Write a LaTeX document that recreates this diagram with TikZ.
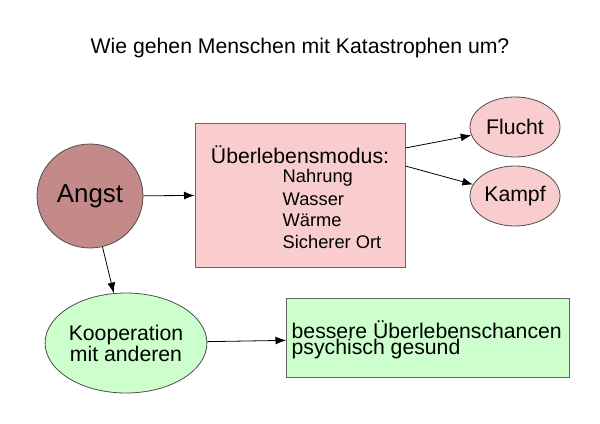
\documentclass[tikz,border=0pt]{standalone}
\usepackage{fontspec}
\setmainfont{Liberation Sans}
\usetikzlibrary{arrows.meta,shapes.geometric}
\definecolor{rose}{HTML}{C48A8A}
\definecolor{pinkfill}{HTML}{F9CDCD}
\definecolor{greenfill}{HTML}{CCFFCC}
\newcommand{\gross}{\fontsize{16}{22}\selectfont}
\newcommand{\klein}{\fontsize{13.8}{16}\selectfont}
\tikzset{
  oval/.style={ellipse, draw=black!70, semithick, inner sep=0pt},
  kasten/.style={rectangle, draw=black!60, semithick},
  pfeil/.style={-{Latex[length=8pt,width=6pt]}, semithick}
}
\begin{document}
\begin{tikzpicture}[x=0.0265cm,y=-0.0265cm]
      \useasboundingbox (0,0) rectangle (600,424);
      \node             (title) at (300,48) {\gross Wie gehen Menschen mit Katastrophen um?};
      \node[oval, fill=rose, minimum width=106*0.0265cm, minimum height=104*0.0265cm] (angst) at (90,196) {\fontsize{19.5}{22}\selectfont Angst};
      \node[kasten, fill=pinkfill, minimum width=210*0.0265cm, minimum height=144*0.0265cm] (modus) at (300,195) {};
      \node             (mtitle) at (300,155) {\gross Überlebensmodus:};
      \foreach \y/\wort in {178/Nahrung, 199/Wasser, 220/Wärme, 242/Sicherer Ort} {
        \node[right]    (w\y) at (278,\y) {\klein \wort};
      }
      \node[oval, fill=pinkfill, minimum width=90*0.0265cm, minimum height=60*0.0265cm] (flucht) at (515,127) {\gross Flucht};
      \node[oval, fill=pinkfill, minimum width=90*0.0265cm, minimum height=60*0.0265cm] (kampf) at (515,196) {\gross Kampf};
      \node[oval, fill=greenfill, minimum width=140*0.0265cm, minimum height=100*0.0265cm, align=center] (koop) at (126,343) {\gross Kooperation\\\gross mit anderen};
      \node[kasten, fill=greenfill, minimum width=283*0.0265cm, minimum height=79*0.0265cm] (besser) at (428,338) {};
      \node[right, align=left] (btext) at (287,340) {\gross bessere Überlebenschancen\\\gross psychisch gesund};
      % Pfeile
      \draw[pfeil]      (angst) -- (modus);
      \draw[pfeil]      (modus.east|-0,148) -- (flucht);
      \draw[pfeil]      (modus.east|-0,166) -- (kampf);
      \draw[pfeil]      (angst) -- (koop);
      \draw[pfeil]      (koop) -- (besser);
    \end{tikzpicture}
\end{document}
